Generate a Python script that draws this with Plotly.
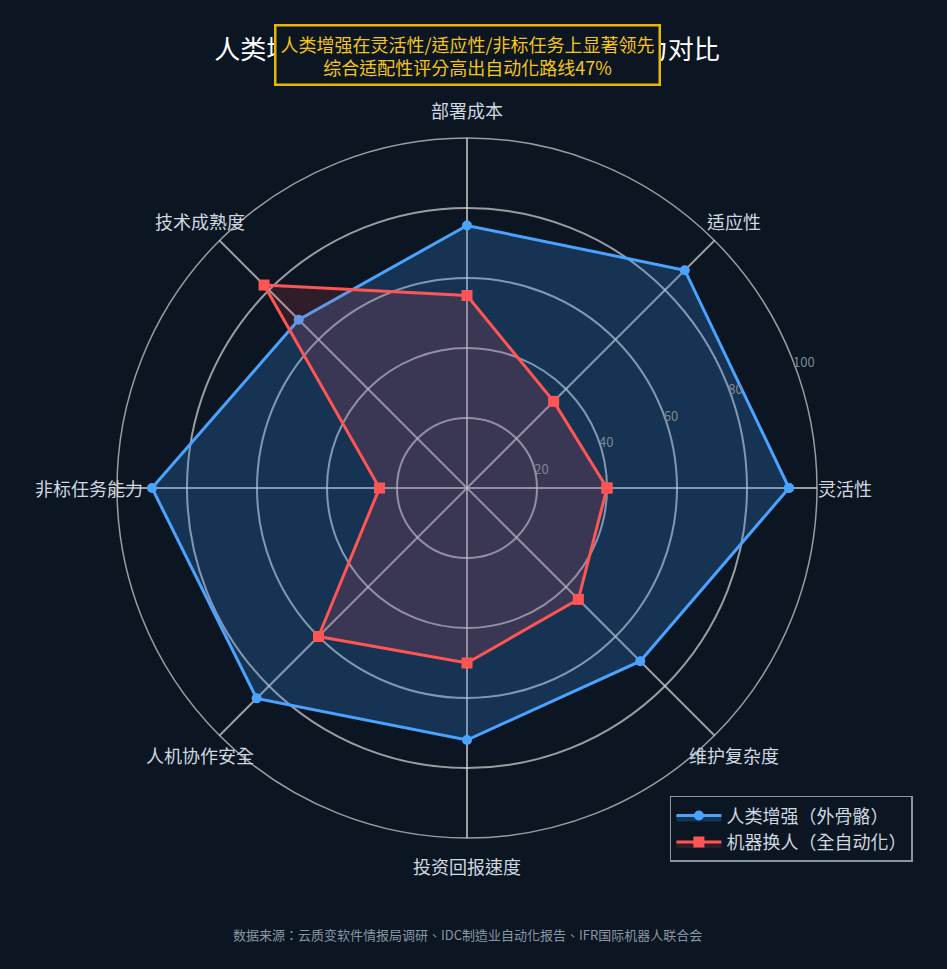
import math
import plotly.graph_objects as go

# data
dimensions = ["灵活性", "适应性", "部署成本", "技术成熟度", "非标任务能力", "人机协作安全", "投资回报速度", "维护复杂度"]
human_aug = [92, 88, 75, 68, 90, 85, 72, 70]
robot_auto = [40, 35, 55, 82, 25, 60, 50, 45]

BG = "#0b1622"
GRID = "rgba(215,215,215,0.7)"
FONT = "Noto Sans CJK TC"

# close the polygon
theta = dimensions + dimensions[:1]

fig = go.Figure()

fig.add_trace(go.Scatterpolar(
    r=human_aug + human_aug[:1],
    theta=theta,
    name="人类增强（外骨骼）",
    mode="lines+markers",
    fill="toself",
    fillcolor="rgba(59,140,230,0.25)",
    line=dict(color="#4aa3ff", width=3),
    marker=dict(symbol="circle", size=10, color="#4aa3ff"),
))

fig.add_trace(go.Scatterpolar(
    r=robot_auto + robot_auto[:1],
    theta=theta,
    name="机器换人（全自动化）",
    mode="lines+markers",
    fill="toself",
    fillcolor="rgba(255,80,90,0.15)",
    line=dict(color="#ff5555", width=3),
    marker=dict(symbol="square", size=11, color="#ff5555"),
))

# axis names centred a bit outside the outer ring (like the original)
label_r = 0.54
axis_names = []
for i, name in enumerate(dimensions):
    a = math.radians(i * 360 / len(dimensions))
    axis_names.append(dict(
        text=name, xref="paper", yref="paper",
        x=0.5 + label_r * math.cos(a), y=0.5 + label_r * math.sin(a),
        xanchor="center", yanchor="middle", showarrow=False,
        font=dict(size=18, color="#d0d8e0"),
    ))

fig.update_layout(
    width=947, height=969,
    paper_bgcolor=BG,
    plot_bgcolor=BG,
    font=dict(family=FONT, color="#d0d8e0"),
    margin=dict(l=117, r=130, t=138, b=131),
    title=dict(
        text="人类增强 vs 机器换人：多维度综合能力对比",
        x=0.5, xref="paper", xanchor="center",
        y=1 - 50 / 969, yanchor="middle",
        font=dict(size=26, color="#ffffff"),
    ),
    polar=dict(
        bgcolor=BG,
        angularaxis=dict(
            rotation=0,
            direction="counterclockwise",
            showticklabels=False,
            linecolor=GRID,
            linewidth=1.5,
            gridcolor=GRID,
            gridwidth=1.5,
            showline=True,
            ticks="",
        ),
        radialaxis=dict(
            range=[0, 100],
            tickvals=[20, 40, 60, 80, 100],
            angle=22.5,
            tickangle=22.5,
            tickfont=dict(size=13, color="#7d8896"),
            gridcolor=GRID,
            gridwidth=1.5,
            showline=False,
            ticks="",
        ),
    ),
    legend=dict(
        x=1.137, xanchor="right",
        y=-0.034, yanchor="bottom",
        bgcolor=BG,
        bordercolor="#8b96a3",
        borderwidth=1.5,
        itemwidth=45,
        font=dict(size=18, color="#d0d8e0"),
    ),
    annotations=axis_names + [
        dict(
            text="人类增强在灵活性/适应性/非标任务上显著领先<br>综合适配性评分高出自动化路线47%",
            xref="paper", yref="paper",
            x=0.5, y=(838 - 55) / 700,
            xanchor="center", yanchor="middle",
            showarrow=False,
            font=dict(size=18, color="#f5c518"),
            bgcolor=BG,
            bordercolor="#e6b800",
            borderwidth=2.5,
            borderpad=4,
        ),
        dict(
            text="数据来源：云质变软件情报局调研、IDC制造业自动化报告、IFR国际机器人联合会",
            xref="paper", yref="paper",
            x=0.5, y=(838 - 934) / 700,
            xanchor="center", yanchor="middle",
            showarrow=False,
            font=dict(size=13, color="#8a96a6"),
        ),
    ],
)

fig.write_html("out.html", config={"displayModeBar": False},
               post_script="document.body.style.margin='0';")
